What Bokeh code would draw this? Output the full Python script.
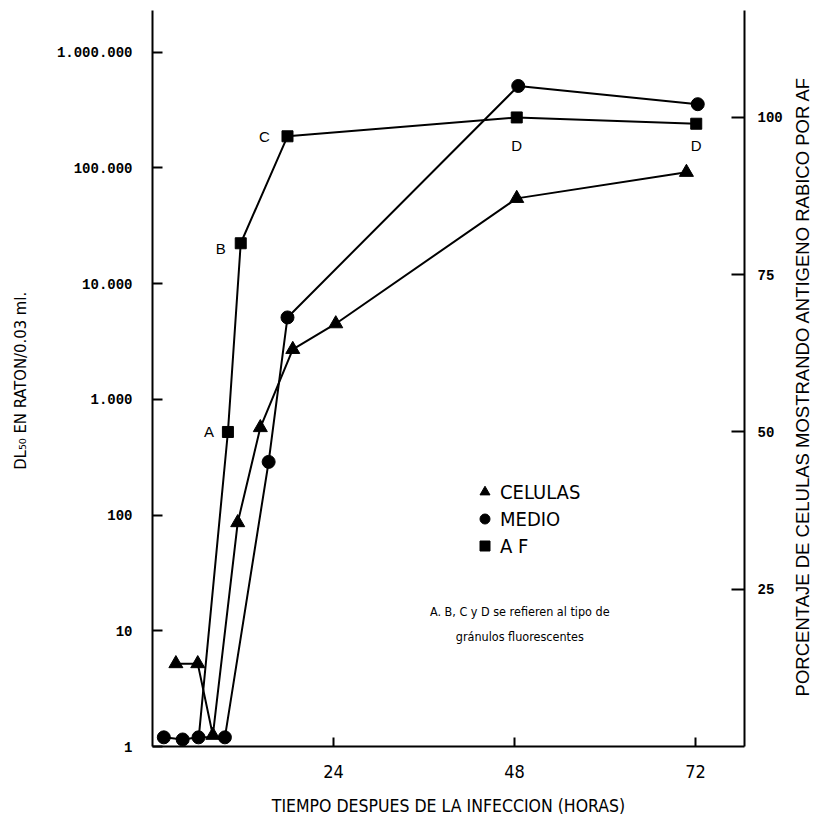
import math
from bokeh.plotting import figure
from bokeh.layouts import row
from bokeh.models import (Range1d, LinearAxis, LinearScale, FixedTicker, Legend,
                          LegendItem, Label, ColumnDataSource)
from bokeh.embed import file_html
from bokeh.resources import INLINE
from bokeh.core.properties import value

# Hours after infection and DL50 titres (mouse, per 0.03 ml)
hours_celulas = [3.1, 6.0, 8.0, 11.3, 14.3, 18.6, 24.3, 48.3, 70.8]
dl50_celulas = [5.2, 5.2, 1.25, 86, 570, 2700, 4500, 54500, 91500]

hours_medio = [1.5, 4.0, 6.1, 9.6, 15.4, 17.9, 48.5, 72.3]
dl50_medio = [1.2, 1.15, 1.2, 1.2, 288, 5100, 510000, 355000]

# Percentage of cells showing rabies antigen by fluorescent antibody
hours_af = [6.1, 10.0, 11.7, 17.9, 48.3, 72.1]
pct_af = [1, 50, 80, 97, 100, 99]
granule_type = ["", "A", "B", "C", "D", "D"]

left_ticks = [1, 10, 100, 1000, 10000, 100000, 1000000]
left_tick_labels = ["1", "10", "100", "1.000", "10.000", "100.000", "1.000.000"]
right_ticks = [25, 50, 75, 100]
bottom_ticks = [24, 48, 72]

# Pixel offsets of the granule letters from their points
letter_dx = [-19, -20, -23, 0, 0]
letter_dy = [0, 5, 0, 28, 22]

NARROW = "'Liberation Sans Narrow', 'DejaVu Sans Condensed', sans-serif"
SANS = "'Liberation Sans', sans-serif"
MONO = "'Liberation Mono', monospace"

p = figure(width=785, height=821, output_backend="svg", toolbar_location=None,
           x_range=Range1d(0, 78.5), y_range=Range1d(1, 2.29e6),
           y_axis_type="log",
           min_border_left=152, min_border_right=40,
           min_border_top=10, min_border_bottom=75)
p.extra_y_ranges = {"pct": Range1d(0, 117)}
p.extra_y_scales = {"pct": LinearScale()}
p.outline_line_color = None
p.grid.grid_line_color = None
p.background_fill_color = "white"
p.border_fill_color = "white"

# Left (log) axis
ya = p.yaxis[0]
ya.ticker = FixedTicker(ticks=left_ticks, minor_ticks=[])
ya.major_label_overrides = {t: l for t, l in zip(left_ticks, left_tick_labels)}
ya.major_tick_in = 10
ya.major_tick_out = 0
ya.minor_tick_line_color = None
ya.axis_line_width = 2
ya.major_tick_line_width = 2
ya.major_label_standoff = 20
ya.major_label_text_font = MONO
ya.major_label_text_font_size = "14px"
ya.major_label_text_font_style = "bold"
ya.major_label_text_color = "black"
ya.axis_label = "DL\u2085\u2080  EN RATON/0.03 ml."
ya.axis_label_text_font = NARROW
ya.axis_label_text_font_size = "16.5px"
ya.axis_label_text_font_style = "normal"
ya.axis_label_text_color = "black"
ya.axis_label_standoff = 24

# Bottom axis
xa = p.xaxis[0]
xa.ticker = FixedTicker(ticks=bottom_ticks, minor_ticks=[])
xa.major_tick_in = 9
xa.major_tick_out = 0
xa.minor_tick_line_color = None
xa.axis_line_width = 2
xa.major_tick_line_width = 2
xa.major_label_standoff = 18
xa.major_label_text_font = NARROW
xa.major_label_text_font_size = "18px"
xa.major_label_text_color = "black"
xa.axis_label = "TIEMPO DESPUES DE LA INFECCION (HORAS)"
xa.axis_label_text_font = NARROW
xa.axis_label_text_font_size = "17.5px"
xa.axis_label_text_font_style = "normal"
xa.axis_label_text_color = "black"
xa.axis_label_standoff = 15

# Right (percentage) axis
ra = LinearAxis(y_range_name="pct",
                ticker=FixedTicker(ticks=right_ticks, minor_ticks=[]))
ra.major_tick_in = 13
ra.major_tick_out = 0
ra.minor_tick_line_color = None
ra.axis_line_width = 2
ra.major_tick_line_width = 2
ra.major_label_standoff = 13
ra.major_label_text_font = MONO
ra.major_label_text_font_size = "14px"
ra.major_label_text_font_style = "bold"
ra.major_label_text_color = "black"
p.add_layout(ra, "right")

# Series
src_cel = ColumnDataSource(dict(x=hours_celulas, y=dl50_celulas))
src_med = ColumnDataSource(dict(x=hours_medio, y=dl50_medio))
src_af = ColumnDataSource(dict(x=hours_af, y=pct_af))
src_af_marks = ColumnDataSource(dict(x=hours_af[1:], y=pct_af[1:],
                                     t=granule_type[1:], dx=letter_dx, dy=letter_dy))

p.line("x", "y", source=src_cel, line_color="black", line_width=2)
p.line("x", "y", source=src_af, line_color="black", line_width=2, y_range_name="pct")
p.line("x", "y", source=src_med, line_color="black", line_width=2)

r_cel = p.scatter("x", "y", source=src_cel, marker="triangle", size=14,
                  fill_color="black", line_color="black")
r_af = p.scatter("x", "y", source=src_af_marks, marker="square", size=11,
                 fill_color="black", line_color="black", y_range_name="pct")
r_med = p.scatter("x", "y", source=src_med, marker="circle", size=13,
                  fill_color="black", line_color="black")

# Granule type letters next to the AF points
p.text("x", "y", text="t", source=src_af_marks, y_range_name="pct",
       x_offset="dx", y_offset="dy",
       text_font=value(SANS), text_font_size="15px", text_color="black",
       text_align="center", text_baseline="middle")

legend = Legend(items=[LegendItem(label="CELULAS", renderers=[r_cel]),
                       LegendItem(label="MEDIO", renderers=[r_med]),
                       LegendItem(label="A F", renderers=[r_af])],
                location=(320, 188), orientation="vertical",
                background_fill_alpha=0, border_line_color=None,
                padding=0, margin=0, spacing=2,
                glyph_width=25, glyph_height=25, label_height=25,
                label_standoff=3,
                label_text_font=NARROW, label_text_font_size="20px",
                label_text_color="black")
p.add_layout(legend, "center")

for txt, yv in [("A. B, C y D se refieren al tipo de", 14.7),
                ("gr\u00e1nulos fluorescentes", 8.9)]:
    p.add_layout(Label(x=48.7, y=yv, text=txt, text_align="center",
                       text_baseline="middle", text_font=NARROW,
                       text_font_size="12.5px", text_color="black"))

# Narrow strip holding the right axis title, reading upwards
side = figure(width=50, height=821, output_backend="svg", toolbar_location=None,
              x_range=Range1d(0, 50), y_range=Range1d(0, 821),
              min_border_left=0, min_border_right=0,
              min_border_top=0, min_border_bottom=0)
side.axis.visible = False
side.grid.grid_line_color = None
side.outline_line_color = None
side.text(x=[17], y=[402], angle=math.pi / 2,
          text=["PORCENTAJE DE CELULAS MOSTRANDO ANTIGENO RABICO POR AF"],
          text_align="center", text_baseline="middle",
          text_font=value(SANS), text_font_size="18.5px", text_color="black")

layout = row(p, side, spacing=0)
open("out.html", "w").write(file_html(layout, INLINE))
